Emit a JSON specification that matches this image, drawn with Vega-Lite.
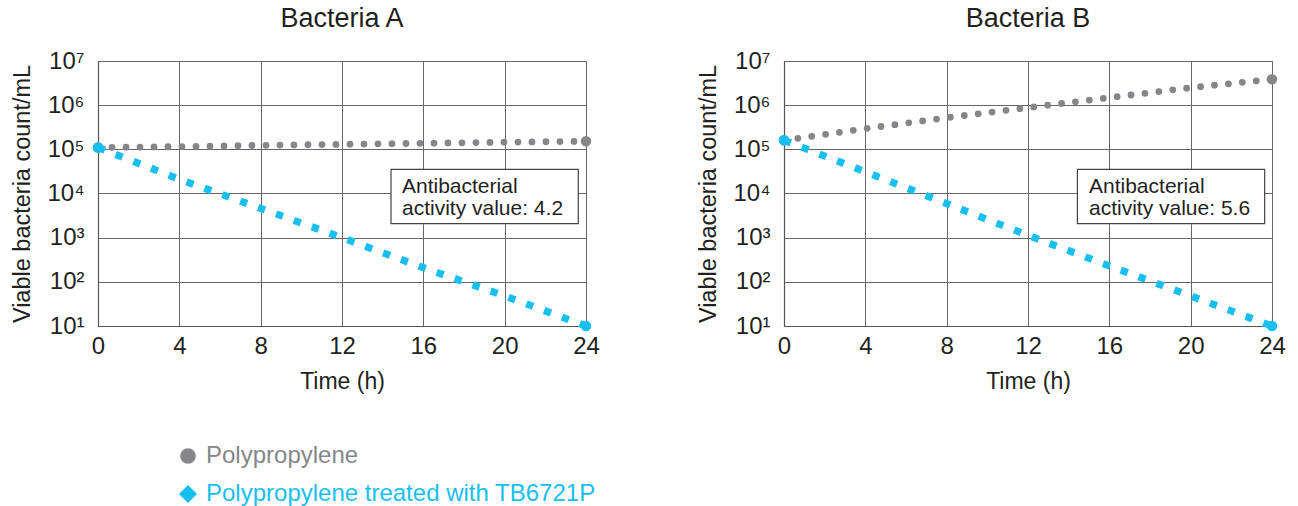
{
  "$schema": "https://vega.github.io/schema/vega-lite/v6.json",
  "padding": {"left": 10, "top": 4, "right": 10, "bottom": 5},
  "background": "white",
  "config": {
    "font": "Liberation Sans",
    "view": {"stroke": "#666", "strokeWidth": 1},
    "axis": {
      "gridColor": "#666", "gridOpacity": 1, "gridWidth": 1,
      "domainColor": "#555", "domainWidth": 1.2,
      "ticks": false,
      "labelFont": "Liberation Sans", "titleFont": "Liberation Sans",
      "labelColor": "#231f20", "titleColor": "#231f20",
      "titleFontWeight": "normal"
    },
    "title": {"font": "Liberation Sans", "fontSize": 27, "fontWeight": "normal", "color": "#231f20", "offset": 16}
  },
  "datasets": {
    "A": [
      {"t": 0, "series": "Polypropylene", "count": 110000},
      {"t": 4, "series": "Polypropylene", "count": 115000},
      {"t": 8, "series": "Polypropylene", "count": 123000},
      {"t": 12, "series": "Polypropylene", "count": 130000},
      {"t": 16, "series": "Polypropylene", "count": 137000},
      {"t": 20, "series": "Polypropylene", "count": 145000},
      {"t": 24, "series": "Polypropylene", "count": 152000},
      {"t": 0, "series": "Polypropylene treated with TB6721P", "count": 110000},
      {"t": 4, "series": "Polypropylene treated with TB6721P", "count": 21000},
      {"t": 8, "series": "Polypropylene treated with TB6721P", "count": 4600},
      {"t": 12, "series": "Polypropylene treated with TB6721P", "count": 1000},
      {"t": 16, "series": "Polypropylene treated with TB6721P", "count": 209},
      {"t": 20, "series": "Polypropylene treated with TB6721P", "count": 48},
      {"t": 24, "series": "Polypropylene treated with TB6721P", "count": 10}
    ],
    "B": [
      {"t": 0, "series": "Polypropylene", "count": 160000},
      {"t": 4, "series": "Polypropylene", "count": 295000},
      {"t": 8, "series": "Polypropylene", "count": 520000},
      {"t": 12, "series": "Polypropylene", "count": 880000},
      {"t": 16, "series": "Polypropylene", "count": 1480000},
      {"t": 20, "series": "Polypropylene", "count": 2490000},
      {"t": 24, "series": "Polypropylene", "count": 3850000},
      {"t": 0, "series": "Polypropylene treated with TB6721P", "count": 160000},
      {"t": 4, "series": "Polypropylene treated with TB6721P", "count": 31000},
      {"t": 8, "series": "Polypropylene treated with TB6721P", "count": 5900},
      {"t": 12, "series": "Polypropylene treated with TB6721P", "count": 1130},
      {"t": 16, "series": "Polypropylene treated with TB6721P", "count": 229},
      {"t": 20, "series": "Polypropylene treated with TB6721P", "count": 48},
      {"t": 24, "series": "Polypropylene treated with TB6721P", "count": 10}
    ],
    "noteA": [{"note": ["Antibacterial", "activity value: 4.2"]}],
    "noteB": [{"note": ["Antibacterial", "activity value: 5.6"]}]
  },
  "spacing": 94,
  "hconcat": [
    {
      "title": "Bacteria A",
      "width": 488, "height": 265,
      "layer": [
        {
          "data": {"name": "A"},
          "transform": [{"filter": "datum.series == 'Polypropylene'"}],
          "mark": {"type": "line", "strokeDash": [0, 14], "strokeCap": "round", "strokeWidth": 6.8},
          "encoding": {
            "x": {"field": "t", "type": "quantitative", "scale": {"domain": [0, 24], "nice": false},
              "axis": {"title": "Time (h)", "values": [0, 4, 8, 12, 16, 20, 24], "labelFontSize": 24, "labelPadding": 8, "titleFontSize": 23, "titlePadding": 12, "labelFlush": false}},
            "y": {"field": "count", "type": "quantitative", "scale": {"type": "log", "domain": [10, 10000000], "nice": false},
              "axis": {"title": "Viable bacteria count/mL", "values": [10, 100, 1000, 10000, 100000, 1000000, 10000000], "labelFontSize": 24, "labelPadding": 14, "titleFontSize": 23.5, "titlePadding": 12,
                "labelExpr": "'10' + ['⁰','¹','²','³','⁴','⁵','⁶','⁷'][round(log(datum.value)/LN10)]"}},
            "color": {"field": "series", "type": "nominal", "scale": {"domain": ["Polypropylene", "Polypropylene treated with TB6721P"], "range": ["#86868a", "#17bfef"]}}
          }
        },
        {
          "data": {"name": "A"},
          "transform": [{"filter": "datum.series != 'Polypropylene'"}],
          "mark": {"type": "line", "strokeDash": [7.3, 11.7], "strokeCap": "butt", "strokeWidth": 7.3},
          "encoding": {
            "x": {"field": "t", "type": "quantitative"},
            "y": {"field": "count", "type": "quantitative"},
            "color": {"field": "series", "type": "nominal"}
          }
        },
        {
          "data": {"name": "A"},
          "transform": [{"filter": "datum.t == 0 || datum.t == 24"}],
          "mark": {"type": "point", "filled": true, "shape": "circle", "size": 110, "opacity": 1},
          "encoding": {
            "x": {"field": "t", "type": "quantitative"},
            "y": {"field": "count", "type": "quantitative"},
            "color": {"field": "series", "type": "nominal",
            "legend": {"orient": "none", "legendX": 78, "legendY": 383, "title": null, "labelFontSize": 24, "labelFont": "Liberation Sans", "labelLimit": 600, "rowPadding": 14, "labelOffset": 6,
              "labelColor": {"expr": "datum.label == 'Polypropylene' ? '#86868a' : '#17bfef'"},
              "symbolType": {"expr": "datum.label == 'Polypropylene' ? 'circle' : 'diamond'"},
              "symbolSize": {"expr": "datum.label == 'Polypropylene' ? 246 : 330"},
              "symbolStrokeWidth": 0
            }}
          }
        },
        {
          "data": {"name": "noteA"},
          "mark": {"type": "rect", "fill": "white", "stroke": "#444", "strokeWidth": 1.2},
          "encoding": {"x": {"datum": 14.41, "type": "quantitative"}, "x2": {"datum": 23.62}, "y": {"datum": 35300, "type": "quantitative"}, "y2": {"datum": 2075}}
        },
        {
          "data": {"name": "noteA"},
          "mark": {"type": "text", "align": "left", "baseline": "alphabetic", "fontSize": 21, "lineHeight": 22, "color": "#231f20", "font": "Liberation Sans"},
          "encoding": {"x": {"datum": 14.95, "type": "quantitative"}, "y": {"datum": 10430, "type": "quantitative"}, "text": {"field": "note"}}
        }
      ]
    },
    {
      "title": "Bacteria B",
      "width": 488, "height": 265,
      "layer": [
        {
          "data": {"name": "B"},
          "transform": [{"filter": "datum.series == 'Polypropylene'"}],
          "mark": {"type": "line", "strokeDash": [0, 14], "strokeCap": "round", "strokeWidth": 6.8},
          "encoding": {
            "x": {"field": "t", "type": "quantitative", "scale": {"domain": [0, 24], "nice": false},
              "axis": {"title": "Time (h)", "values": [0, 4, 8, 12, 16, 20, 24], "labelFontSize": 24, "labelPadding": 8, "titleFontSize": 23, "titlePadding": 12, "labelFlush": false}},
            "y": {"field": "count", "type": "quantitative", "scale": {"type": "log", "domain": [10, 10000000], "nice": false},
              "axis": {"title": "Viable bacteria count/mL", "values": [10, 100, 1000, 10000, 100000, 1000000, 10000000], "labelFontSize": 24, "labelPadding": 14, "titleFontSize": 23.5, "titlePadding": 12,
                "labelExpr": "'10' + ['⁰','¹','²','³','⁴','⁵','⁶','⁷'][round(log(datum.value)/LN10)]"}},
            "color": {"field": "series", "type": "nominal", "scale": {"domain": ["Polypropylene", "Polypropylene treated with TB6721P"], "range": ["#86868a", "#17bfef"]}}
          }
        },
        {
          "data": {"name": "B"},
          "transform": [{"filter": "datum.series != 'Polypropylene'"}],
          "mark": {"type": "line", "strokeDash": [7.3, 11.7], "strokeCap": "butt", "strokeWidth": 7.3},
          "encoding": {
            "x": {"field": "t", "type": "quantitative"},
            "y": {"field": "count", "type": "quantitative"},
            "color": {"field": "series", "type": "nominal"}
          }
        },
        {
          "data": {"name": "B"},
          "transform": [{"filter": "datum.t == 0 || datum.t == 24"}],
          "mark": {"type": "point", "filled": true, "shape": "circle", "size": 110, "opacity": 1},
          "encoding": {
            "x": {"field": "t", "type": "quantitative"},
            "y": {"field": "count", "type": "quantitative"},
            "color": {"field": "series", "type": "nominal"}
          }
        },
        {
          "data": {"name": "noteB"},
          "mark": {"type": "rect", "fill": "white", "stroke": "#444", "strokeWidth": 1.2},
          "encoding": {"x": {"datum": 14.43, "type": "quantitative"}, "x2": {"datum": 23.64}, "y": {"datum": 35300, "type": "quantitative"}, "y2": {"datum": 2075}}
        },
        {
          "data": {"name": "noteB"},
          "mark": {"type": "text", "align": "left", "baseline": "alphabetic", "fontSize": 21, "lineHeight": 22, "color": "#231f20", "font": "Liberation Sans"},
          "encoding": {"x": {"datum": 15.0, "type": "quantitative"}, "y": {"datum": 10430, "type": "quantitative"}, "text": {"field": "note"}}
        }
      ]
    }
  ]
}
